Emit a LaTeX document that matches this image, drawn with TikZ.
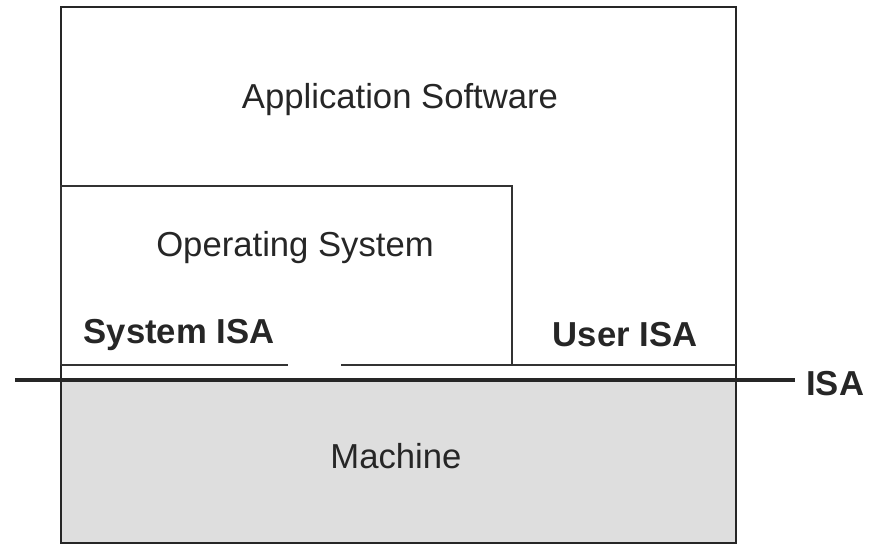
\documentclass[tikz,border=0pt]{standalone}
\usepackage{fontspec}
\setmainfont{Liberation Sans}
\begin{document}
\begin{tikzpicture}[x=0.75pt,y=-0.75pt,
  lbl/.style={font=\fontsize{26}{30}\selectfont, inner sep=0pt, text=black!85},
  blbl/.style={font=\fontsize{26}{30}\selectfont\bfseries, inner sep=0pt, text=black!85},
  boxline/.style={line width=2.2pt, draw=black!85},
  thin/.style={line width=1.6pt, draw=black!80},
  isaline/.style={line width=2.8pt, draw=black!85}]
\useasboundingbox (0,0) rectangle (877,547);
% machine
\fill[black!13] (61,380) rectangle (736,543);
% outer box
\draw[boxline] (61,7) rectangle (736,543);
% operating system box
\draw[thin] (61,365) -- (61,186) -- (512,186) -- (512,365);
% interface lines above ISA
\draw[thin] (61,365) -- (288,365);
\draw[thin] (341,365) -- (736,365);
% ISA line
\coordinate (isaL) at (15,380);
\coordinate (isaR) at (795,380);
\draw[isaline] (isaL) -- (isaR);
% texts
\node[lbl] (app) at (400,100) {Application Software};
\node[lbl] (os) at (295,248) {Operating System};
\node[blbl] (sysisa) at (179,335) {System ISA};
\node[blbl] (userisa) at (625,335) {User ISA};
\node[blbl, anchor=west] (isa) at (806,384) {ISA};
\node[lbl] (mach) at (396,456) {Machine};
\end{tikzpicture}
\end{document}
